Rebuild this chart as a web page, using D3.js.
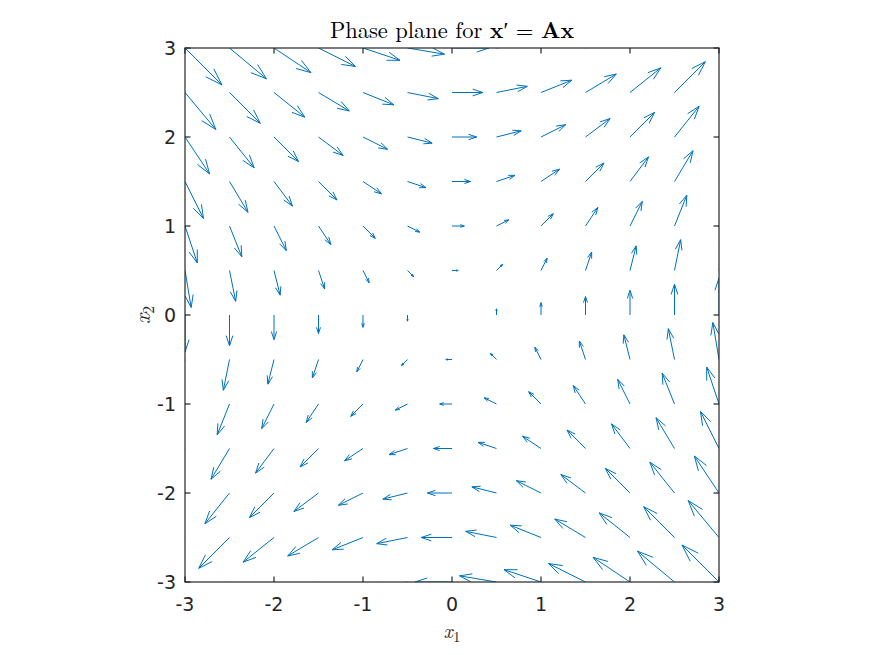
<!DOCTYPE html>
<html>
<head>
<meta charset="utf-8">
<script src="https://cdn.jsdelivr.net/npm/d3@7"></script>
<style>
  html, body { margin: 0; padding: 0; background: #fff; }
  svg { display: block; }
</style>
</head>
<body>
<svg id="chart" width="874" height="655"></svg>
<script>
// ---- data ----
const xGrid = [-3, -2.5, -2, -1.5, -1, -0.5, 0, 0.5, 1, 1.5, 2, 2.5, 3];
const yGrid = [-3, -2.5, -2, -1.5, -1, -0.5, 0, 0.5, 1, 1.5, 2, 2.5, 3];
const matrixA = [[0, 1], [1, 0]];   // x' = A x
const xTicks = [-3, -2, -1, 0, 1, 2, 3];
const yTicks = [-3, -2, -1, 0, 1, 2, 3];
const titleText = "Phase plane for ";

(function () {
// ---- layout ----
const svg = d3.select("#chart");
const pL = 185, pR = 719, pT = 48, pB = 582;
const x = d3.scaleLinear().domain([-3, 3]).range([pL, pR]);
const y = d3.scaleLinear().domain([-3, 3]).range([pB, pT]);
const axisColor = "#262626";
const arrowColor = "#0072BD";

// build vectors
const vecs = [];
yGrid.forEach(yy => xGrid.forEach(xx => {
  vecs.push({ x: xx, y: yy,
    u: matrixA[0][0] * xx + matrixA[0][1] * yy,
    v: matrixA[1][0] * xx + matrixA[1][1] * yy });
}));

// MATLAB-style autoscale
const n = Math.sqrt(vecs.length);
const delx = (d3.max(xGrid) - d3.min(xGrid)) / n;
const dely = (d3.max(yGrid) - d3.min(yGrid)) / n;
const del = delx * delx + dely * dely;
const maxlen = d3.max(vecs, d => Math.sqrt((d.u * d.u + d.v * d.v) / del));
const scale = 0.9 / maxlen;

svg.append("defs").append("clipPath").attr("id", "clip")
  .append("rect").attr("x", pL).attr("y", pT)
  .attr("width", pR - pL).attr("height", pB - pT);

const g = svg.append("g").attr("clip-path", "url(#clip)");
const alpha = 0.33, beta = 0.33;
const path = d3.path();
vecs.forEach(d => {
  const u = d.u * scale, v = d.v * scale;
  const x0 = d.x, y0 = d.y, x1 = d.x + u, y1 = d.y + v;
  path.moveTo(x(x0), y(y0));
  path.lineTo(x(x1), y(y1));
  if (u === 0 && v === 0) return;
  const hx1 = x1 - alpha * (u + beta * v), hy1 = y1 - alpha * (v - beta * u);
  const hx2 = x1 - alpha * (u - beta * v), hy2 = y1 - alpha * (v + beta * u);
  path.moveTo(x(hx1), y(hy1));
  path.lineTo(x(x1), y(y1));
  path.lineTo(x(hx2), y(hy2));
});
g.append("path").attr("d", path.toString())
  .attr("fill", "none").attr("stroke", arrowColor).attr("stroke-width", 1);

// axes box
svg.append("rect").attr("x", pL).attr("y", pT)
  .attr("width", pR - pL).attr("height", pB - pT)
  .attr("fill", "none").attr("stroke", axisColor).attr("stroke-width", 1.2);

const tickLen = 5.5;
const ticks = svg.append("g").attr("stroke", axisColor).attr("stroke-width", 1.2);
xTicks.forEach(t => {
  ticks.append("line").attr("x1", x(t)).attr("x2", x(t)).attr("y1", pB).attr("y2", pB - tickLen);
  ticks.append("line").attr("x1", x(t)).attr("x2", x(t)).attr("y1", pT).attr("y2", pT + tickLen);
});
yTicks.forEach(t => {
  ticks.append("line").attr("y1", y(t)).attr("y2", y(t)).attr("x1", pL).attr("x2", pL + tickLen);
  ticks.append("line").attr("y1", y(t)).attr("y2", y(t)).attr("x1", pR).attr("x2", pR - tickLen);
});

const font = "'DejaVu Sans', sans-serif";
svg.append("g").selectAll("text").data(xTicks).join("text")
  .attr("x", d => x(d)).attr("y", 611)
  .attr("text-anchor", "middle").attr("font-family", font).attr("font-size", 19)
  .attr("fill", axisColor).text(d => d);
svg.append("g").selectAll("text").data(yTicks).join("text")
  .attr("x", pL - 9).attr("y", d => y(d) + 7)
  .attr("text-anchor", "end").attr("font-family", font).attr("font-size", 19)
  .attr("fill", axisColor).text(d => d);

// title
const serif = "'Latin Modern Roman', 'Liberation Serif', 'DejaVu Serif', serif";
const title = svg.append("text").attr("x", (pL + pR) / 2).attr("y", 38)
  .attr("text-anchor", "middle").attr("font-family", serif).attr("font-size", 22.5)
  .attr("fill", "#000");
title.append("tspan").text(titleText);
title.append("tspan").attr("font-weight", "bold").text("x");
title.append("tspan").text("\u2032 = ");
title.append("tspan").attr("font-weight", "bold").text("Ax");

// axis labels
const xl = svg.append("text").attr("x", (pL + pR) / 2).attr("y", 638)
  .attr("text-anchor", "middle").attr("font-family", serif).attr("font-size", 20)
  .attr("fill", axisColor);
xl.append("tspan").attr("font-style", "italic").text("x");
xl.append("tspan").attr("font-size", 15).attr("dy", 4).text("1");

const yl = svg.append("text").attr("transform", `translate(150,${(pT + pB) / 2}) rotate(-90)`)
  .attr("text-anchor", "middle").attr("font-family", serif).attr("font-size", 22)
  .attr("fill", axisColor);
yl.append("tspan").attr("font-style", "italic").text("x");
yl.append("tspan").attr("font-size", 16).attr("dy", 4).text("2");
})();
</script>
</body>
</html>
